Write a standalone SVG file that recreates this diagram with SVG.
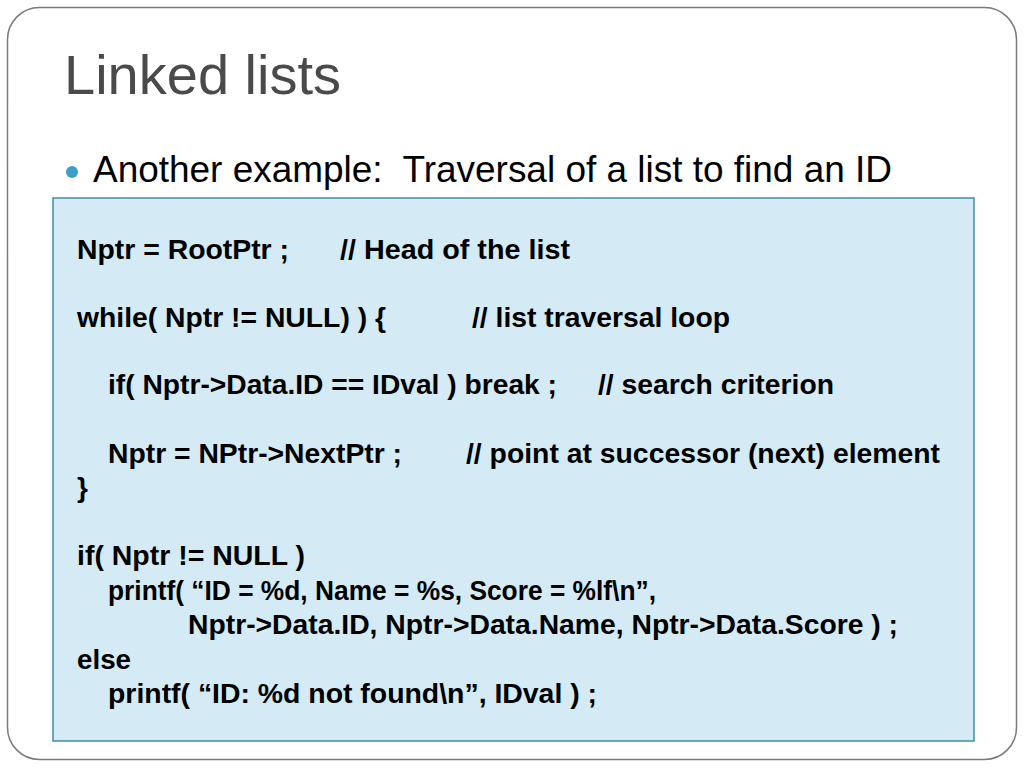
<svg xmlns="http://www.w3.org/2000/svg" width="1024" height="768" viewBox="0 0 1024 768">
<style>
.title{font-family:"Liberation Sans",Arial,sans-serif;font-size:56px;fill:#4a4a4a}
.bullet{font-family:"Liberation Sans",Arial,sans-serif;font-size:36px;fill:#000}
.code{font-family:"Liberation Sans",Arial,sans-serif;font-size:28px;font-weight:bold;fill:#000}
</style>
<rect x="0" y="0" width="1024" height="768" fill="#fff"/>
<rect x="7.5" y="7.5" width="1009" height="752" rx="32" ry="32" fill="#fff" stroke="#7a7a7a" stroke-width="1.5"/>
<g id="title"><text class="title" x="64" y="94">Linked lists</text></g>
<g id="bullet">
<circle cx="72" cy="172" r="6" fill="#3aa0c8"/>
<text class="bullet" x="93" y="182" xml:space="preserve" textLength="799" lengthAdjust="spacingAndGlyphs">Another example:  Traversal of a list to find an ID</text>
</g>
<g id="codebox">
<rect x="53" y="198" width="921" height="543" fill="#d4ebf5" stroke="#3f8fa3" stroke-width="1.5"/>
<text class="code" x="77" y="259" textLength="212" lengthAdjust="spacingAndGlyphs">Nptr = RootPtr ;</text>
<text class="code" x="340" y="259" textLength="230" lengthAdjust="spacingAndGlyphs">// Head of the list</text>
<text class="code" x="77" y="327" textLength="309" lengthAdjust="spacingAndGlyphs">while( Nptr != NULL) ) {</text>
<text class="code" x="472" y="327" textLength="258" lengthAdjust="spacingAndGlyphs">// list traversal loop</text>
<text class="code" x="108" y="394" textLength="449" lengthAdjust="spacingAndGlyphs">if( Nptr-&gt;Data.ID == IDval ) break ;</text>
<text class="code" x="598" y="394" textLength="236" lengthAdjust="spacingAndGlyphs">// search criterion</text>
<text class="code" x="108" y="463" textLength="294" lengthAdjust="spacingAndGlyphs">Nptr = NPtr-&gt;NextPtr ;</text>
<text class="code" x="466" y="463" textLength="474" lengthAdjust="spacingAndGlyphs">// point at successor (next) element</text>
<text class="code" x="77" y="497">}</text>
<text class="code" x="77" y="565" textLength="228" lengthAdjust="spacingAndGlyphs">if( Nptr != NULL )</text>
<text class="code" x="108" y="600" textLength="548" lengthAdjust="spacingAndGlyphs">printf( “ID = %d, Name = %s, Score = %lf\n”,</text>
<text class="code" x="188" y="634" textLength="710" lengthAdjust="spacingAndGlyphs">Nptr-&gt;Data.ID, Nptr-&gt;Data.Name, Nptr-&gt;Data.Score ) ;</text>
<text class="code" x="77" y="669" textLength="54" lengthAdjust="spacingAndGlyphs">else</text>
<text class="code" x="108" y="703" textLength="489" lengthAdjust="spacingAndGlyphs">printf( “ID: %d not found\n”, IDval ) ;</text>
</g>
</svg>
